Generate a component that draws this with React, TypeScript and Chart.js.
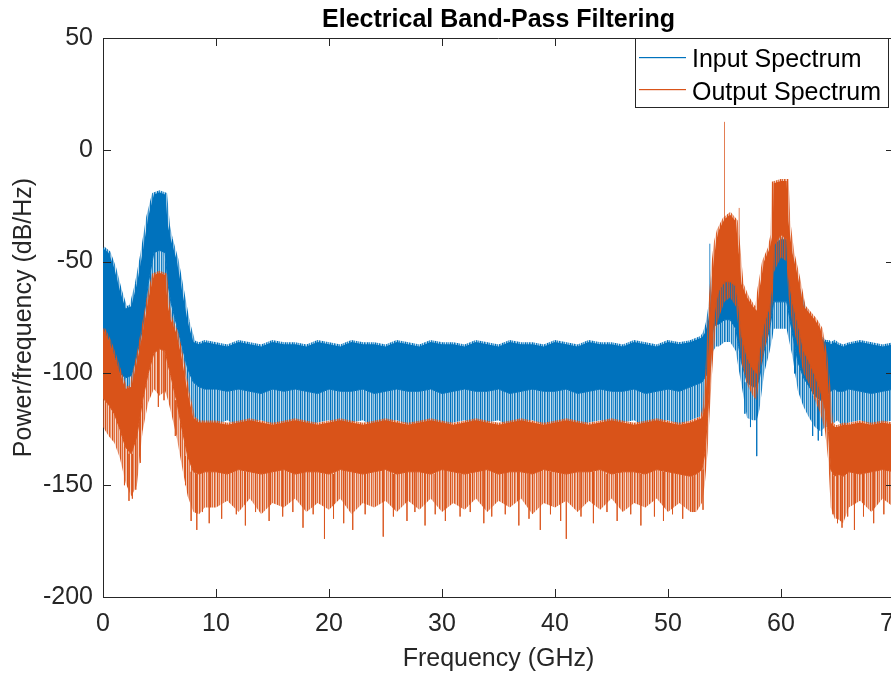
import { useEffect, useRef } from "react";
import { Chart, registerables } from "chart.js";

Chart.register(...registerables);

// ---------- data ----------
const titleText = "Electrical Band-Pass Filtering";
const xLabel = "Frequency (GHz)";
const yLabel = "Power/frequency (dB/Hz)";
const seriesNames = ["Input Spectrum", "Output Spectrum"];

const xTickValues = [0, 10, 20, 30, 40, 50, 60, 70];
const yTickValues = [-200, -150, -100, -50, 0, 50];

// frequency grid (GHz)
const freqs = [
  0, 0.5, 1, 1.5, 2, 2.5, 3, 3.5, 4, 4.5, 5, 5.5, 5.75, 6, 6.5, 7, 7.5, 8, 8.5, 9,
  10, 11, 12, 13, 14, 15, 16, 17, 18, 19, 20, 21, 22, 23, 24, 25, 26, 27, 28, 29, 30,
  31, 32, 33, 34, 35, 36, 37, 38, 39, 40, 41, 42, 43, 44, 45, 46, 47, 48, 49, 50, 51, 52,
  52.5, 53, 53.25, 53.5, 53.75, 54, 54.25, 54.5, 55, 55.5, 56, 56.25, 56.5, 57, 57.5, 57.85,
  58.1, 58.5, 59, 59.25, 59.35, 60, 60.5, 60.65, 61, 61.5, 62, 62.5, 63, 63.5, 63.9, 64.2,
  64.4, 64.75, 65, 65.5, 66, 67, 68, 69, 70,
];

// Input spectrum: upper edge of dense trace, lower edge of dense trace, lower edge of sparse spikes
const inputTop = [
  -44, -46, -53, -63, -71, -70, -60, -46, -30, -20, -19, -20, -34, -40, -49, -63, -77, -86, -87, -86,
  -87, -88, -86, -87, -88, -86, -87, -87, -88, -86, -87, -88, -86, -87, -87, -88, -86, -87, -88, -86, -87,
  -87, -88, -86, -87, -88, -86, -87, -87, -88, -86, -87, -88, -86, -87, -87, -88, -86, -87, -88, -86, -87, -86,
  -85, -84, -82, -78, -70, -58, -52, -50, -48, -48, -52, -58, -65, -75, -78, -76,
  -72, -60, -50, -45, -42, -40, -40, -44, -50, -62, -70, -76, -80, -84, -86, -86,
  -87, -86, -87, -88, -87, -86, -87, -88, -87,
];
const inputCore = [
  -80, -85, -92, -100, -102, -101, -92, -80, -60, -46, -45, -46, -60, -68, -78, -88, -98, -104, -106, -107,
  -107, -108, -107, -108, -109, -107, -108, -107, -108, -109, -107, -108, -108, -107, -109, -108, -107, -108, -108, -107, -109,
  -108, -107, -108, -108, -107, -109, -108, -107, -108, -108, -107, -109, -108, -107, -108, -108, -107, -109, -108, -107, -108, -106,
  -105, -104, -102, -100, -88, -80, -78, -78, -76, -76, -80, -88, -95, -104, -106, -106,
  -102, -90, -80, -72, -68, -68, -68, -72, -82, -95, -102, -106, -110, -112, -110, -109,
  -108, -107, -108, -108, -107, -108, -109, -108, -107,
];
const inputTail = [
  -84, -90, -96, -104, -108, -107, -97, -83, -67, -56, -55, -56, -70, -76, -83, -92, -107, -120, -123, -122,
  -123, -121, -124, -122, -121, -123, -122, -121, -124, -122, -121, -123, -122, -121, -124, -122, -121, -123, -122, -121, -124,
  -122, -121, -123, -122, -121, -124, -122, -121, -123, -122, -121, -124, -122, -121, -123, -122, -121, -124, -122, -121, -123, -121,
  -120, -119, -116, -112, -100, -90, -88, -88, -86, -86, -90, -98, -105, -120, -121, -121,
  -116, -100, -90, -84, -80, -80, -80, -84, -92, -108, -115, -120, -124, -126, -124, -124,
  -123, -122, -121, -124, -122, -121, -123, -122, -121,
];

// Output spectrum
const outputTop = [
  -80, -85, -92, -100, -107, -106, -95, -82, -67, -56, -55, -56, -70, -76, -82, -94, -109, -120, -122, -122,
  -122, -123, -122, -121, -122, -123, -122, -121, -122, -123, -122, -121, -122, -123, -122, -121, -122, -123, -122, -121, -122,
  -123, -122, -121, -122, -123, -122, -121, -122, -123, -122, -121, -122, -123, -122, -121, -122, -123, -122, -121, -122, -123, -122,
  -121, -120, -115, -98, -70, -52, -41, -36, -31, -29, -32, -45, -60, -66, -70, -72,
  -62, -50, -44, -38, -15, -14, -14, -32, -46, -57, -70, -73, -76, -80, -91, -106,
  -122, -124, -124, -123, -123, -122, -123, -122, -123,
];
const outputCore = [
  -111, -114, -118, -125, -133, -136, -128, -112, -100, -91, -89, -90, -96, -101, -112, -125, -137, -144, -145, -144,
  -144, -145, -143, -144, -145, -144, -143, -145, -144, -144, -145, -143, -144, -145, -144, -143, -145, -144, -144, -145, -143,
  -144, -145, -144, -143, -145, -144, -144, -145, -143, -144, -145, -144, -144, -143, -145, -144, -144, -145, -143, -144, -145, -146,
  -145, -143, -136, -120, -98, -78, -68, -63, -59, -59, -61, -70, -83, -93, -98, -100,
  -90, -78, -70, -58, -43, -38, -40, -56, -68, -78, -90, -95, -101, -108, -116, -126,
  -143, -146, -145, -146, -144, -145, -144, -143, -144,
];
const outputTail = [
  -124, -128, -131, -138, -149, -155, -150, -126, -113, -107, -110, -108, -112, -117, -128, -142, -155, -162, -163, -160,
  -160, -157, -162, -156, -163, -158, -160, -156, -162, -158, -161, -156, -163, -158, -160, -157, -162, -157, -161, -156, -162,
  -158, -161, -156, -162, -157, -160, -156, -163, -158, -160, -157, -162, -157, -161, -156, -162, -158, -160, -156, -162, -158, -162,
  -162, -158, -150, -135, -112, -92, -80, -75, -68, -66, -70, -80, -95, -105, -110, -112,
  -100, -90, -80, -68, -55, -48, -50, -65, -78, -88, -100, -105, -112, -118, -126, -140,
  -160, -165, -165, -167, -160, -157, -162, -156, -160,
];

// isolated spikes (frequency, extreme value)
const outputSpikeFreqs = [
  1.9, 2.3, 2.6, 2.9, 3.3, 4.9, 5.4, 6.4, 7.3, 7.8, 8.3, 8.8, 9.4,
  10.5, 11.8, 12.6, 13.5, 14.7, 15.9, 16.8, 17.7, 18.6, 19.6, 20.4, 21.3, 22.1, 23.2, 24.8, 25.7,
  26.9, 27.6, 28.5, 29.4, 30.3, 31.6, 32.5, 33.7, 34.4, 35.6, 36.8, 37.7, 38.7, 39.6, 40.5, 41.0,
  42.3, 43.4, 44.6, 45.5, 46.7, 47.6, 48.8, 49.6, 50.4, 51.3, 52.2, 53.1,
  64.6, 65.0, 65.4, 65.9, 66.5, 67.3, 68.2, 69.1, 55.0, 56.3,
];
const outputSpikeValues = [
  -150, -157, -156, -152, -140, -115, -112, -128, -150, -166, -170, -162, -167,
  -165, -163, -168, -162, -166, -164, -162, -169, -163, -174, -165, -167, -170, -163, -173, -164,
  -166, -162, -168, -163, -166, -164, -162, -167, -164, -163, -168, -165, -170, -163, -166, -174,
  -164, -167, -162, -166, -163, -168, -164, -166, -163, -165, -162, -161,
  -163, -167, -169, -164, -170, -164, -167, -163, 12.5, -26,
];
const inputSpikeFreqs = [53.7, 54.6, 56.8, 57.3, 57.85, 62.8, 63.3, 63.6, 61.2];
const inputSpikeValues = [-42, -47, -118, -124, -137, -128, -130, -128, -100];

// ---------- styling ----------
const BLUE = "#0072BD";
const ORANGE = "#D95319";
const AX = "#262626";
const FONT = '"Liberation Sans", Arial, Helvetica, sans-serif';
// column opacities of the striped texture used for the sparse spike fringe
const STRIPE_ALPHA = [1, 0.45, 0.85, 0.25, 0.95, 0.6, 0.3, 1, 0.5, 0.8, 0.2, 0.9, 0.45, 0.7, 0.35];

function stripePattern(rgb: string) {
  const c = document.createElement("canvas");
  c.width = STRIPE_ALPHA.length;
  c.height = 4;
  const g = c.getContext("2d")!;
  STRIPE_ALPHA.forEach((a, i) => {
    g.fillStyle = `rgba(${rgb},${a})`;
    g.fillRect(i, 0, 1, 4);
  });
  return g.createPattern(c, "repeat")!;
}

function nearestIndex(f: number) {
  let best = 0;
  for (let i = 1; i < freqs.length; i++) {
    if (Math.abs(freqs[i] - f) < Math.abs(freqs[best] - f)) best = i;
  }
  return best;
}

function points(ys: number[]) {
  return freqs.map((f, i) => ({ x: f, y: ys[i] }));
}

function spikePoints(fs: number[], vs: number[], top: number[], core: number[]) {
  const out: { x: number; y: number | null }[] = [];
  fs.forEach((f, k) => {
    const i = nearestIndex(f);
    const v = vs[k];
    const base = v > top[i] ? top[i] : core[i];
    out.push({ x: f, y: base }, { x: f, y: v }, { x: f, y: null });
  });
  return out;
}

const decorPlugin = {
  id: "decor",
  afterDraw(chart: any) {
    const { ctx, chartArea: a, scales } = chart;
    ctx.save();
    ctx.strokeStyle = AX;
    ctx.lineWidth = 1;
    const line = (x1: number, y1: number, x2: number, y2: number) => {
      ctx.beginPath();
      ctx.moveTo(x1, y1);
      ctx.lineTo(x2, y2);
      ctx.stroke();
    };
    // top and right border
    line(a.left, Math.round(a.top) + 0.5, a.right, Math.round(a.top) + 0.5);
    line(Math.round(a.right) + 0.5, a.top, Math.round(a.right) + 0.5, a.bottom);
    // inward tick marks
    xTickValues.forEach((v) => {
      const px = Math.round(scales.x.getPixelForValue(v)) + 0.5;
      line(px, a.bottom, px, a.bottom - 8);
      line(px, a.top, px, a.top + 8);
    });
    yTickValues.forEach((v) => {
      const py = Math.round(scales.y.getPixelForValue(v)) + 0.5;
      line(a.left, py, a.left + 8, py);
      line(a.right, py, a.right - 8, py);
    });
    // title
    ctx.fillStyle = "#000";
    ctx.textAlign = "center";
    ctx.textBaseline = "alphabetic";
    ctx.font = `bold 25px ${FONT}`;
    ctx.fillText(titleText, (a.left + a.right) / 2, 27);
    // axis titles
    ctx.fillStyle = AX;
    ctx.font = `25px ${FONT}`;
    ctx.fillText(xLabel, (a.left + a.right) / 2, 666);
    ctx.save();
    ctx.translate(31, (a.top + a.bottom) / 2);
    ctx.rotate(-Math.PI / 2);
    ctx.fillText(yLabel, 0, 0);
    ctx.restore();
    // legend
    const lx = 635.5, ly = 38.5, lw = 253, lh = 69;
    ctx.fillStyle = "#fff";
    ctx.fillRect(lx, ly, lw, lh);
    ctx.strokeStyle = AX;
    ctx.strokeRect(lx, ly, lw, lh);
    const colors = [BLUE, ORANGE];
    const rowY = [57, 89];
    const baseY = [67, 100];
    ctx.textAlign = "left";
    ctx.font = `25px ${FONT}`;
    seriesNames.forEach((name, i) => {
      ctx.fillStyle = colors[i];
      ctx.fillRect(639, rowY[i], 47, 1.2);
      ctx.fillStyle = "#000";
      ctx.fillText(name, 692, baseY[i]);
    });
    ctx.restore();
  },
};

export default function App() {
  const ref = useRef<HTMLCanvasElement | null>(null);

  useEffect(() => {
    if (!ref.current) return;
    const common = { pointRadius: 0, borderWidth: 1, tension: 0 };
    const blueStripes = stripePattern("0,114,189");
    const orangeStripes = stripePattern("217,83,25");
    const chart = new Chart(ref.current, {
      type: "line",
      data: {
        datasets: [
          { ...common, label: "out-top", data: points(outputTop), borderWidth: 4, borderColor: orangeStripes, fill: false, order: 1 },
          { ...common, label: "out-core", data: points(outputCore), borderColor: ORANGE, backgroundColor: ORANGE, fill: "-1", order: 1 },
          { ...common, label: "out-tail", data: points(outputTail), borderWidth: 0, borderColor: "rgba(0,0,0,0)", backgroundColor: orangeStripes, fill: "-1", order: 1 },
          { ...common, label: "out-spikes", data: spikePoints(outputSpikeFreqs, outputSpikeValues, outputTop, outputCore), borderColor: "rgba(217,83,25,0.75)", fill: false, order: 1, spanGaps: false },
          { ...common, label: "in-top", data: points(inputTop), borderWidth: 4, borderColor: blueStripes, fill: false, order: 2 },
          { ...common, label: "in-core", data: points(inputCore), borderColor: BLUE, backgroundColor: BLUE, fill: "-1", order: 2 },
          { ...common, label: "in-tail", data: points(inputTail), borderWidth: 0, borderColor: "rgba(0,0,0,0)", backgroundColor: blueStripes, fill: "-1", order: 2 },
          { ...common, label: "in-spikes", data: spikePoints(inputSpikeFreqs, inputSpikeValues, inputTop, inputCore), borderColor: "rgba(0,114,189,0.8)", fill: false, order: 2, spanGaps: false },
        ] as any,
      },
      options: {
        animation: false,
        responsive: false,
        events: [],
        layout: { padding: { top: 38, right: 6, bottom: 0, left: 0 } },
        plugins: {
          legend: { display: false },
          tooltip: { enabled: false },
          title: { display: false },
          colors: { enabled: false },
        } as any,
        scales: {
          x: {
            type: "linear",
            min: 0,
            max: 70,
            grid: { display: false, drawTicks: false },
            border: { display: true, color: AX, width: 1 },
            ticks: { color: AX, font: { family: FONT, size: 25 }, padding: 12, maxRotation: 0, autoSkip: false },
            afterBuildTicks: (s: any) => {
              s.ticks = xTickValues.map((v) => ({ value: v }));
            },
            afterFit: (s: any) => {
              s.height = 78;
              s.paddingLeft = 0;
              s.paddingRight = 0;
            },
          },
          y: {
            type: "linear",
            min: -200,
            max: 50,
            grid: { display: false, drawTicks: false },
            border: { display: true, color: AX, width: 1 },
            ticks: { color: AX, font: { family: FONT, size: 25 }, padding: 10, autoSkip: false },
            afterBuildTicks: (s: any) => {
              s.ticks = yTickValues.map((v) => ({ value: v }));
            },
            afterFit: (s: any) => {
              s.width = 103;
              s.paddingTop = 0;
              s.paddingBottom = 0;
            },
          },
        } as any,
      },
      plugins: [decorPlugin],
    });
    return () => chart.destroy();
  }, []);

  return (
    <div style={{ position: "absolute", left: 0, top: 0, width: 891, height: 675, overflow: "hidden", background: "#fff" }}>
      <canvas ref={ref} width={900} height={675} style={{ display: "block" }} />
    </div>
  );
}
